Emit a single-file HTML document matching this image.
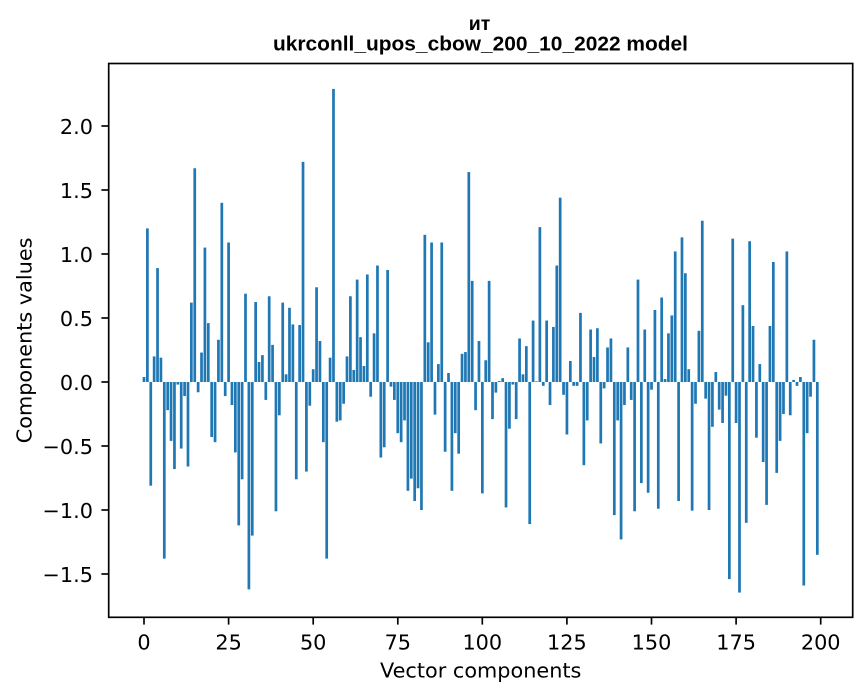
<!DOCTYPE html>
<html>
<head>
<meta charset="utf-8">
<style>
  html, body { margin: 0; padding: 0; background: #ffffff; }
  body { width: 867px; height: 696px; overflow: hidden; }
  svg { display: block; }
  .tick { font-family: "DejaVu Sans", "Liberation Sans", sans-serif; font-size: 20.8px; fill: #000; }
  .lab { font-family: "DejaVu Sans", "Liberation Sans", sans-serif; font-size: 20.8px; fill: #000; }
  .ttl { font-family: "Liberation Sans", "Noto Sans CJK SC", sans-serif; font-weight: bold; fill: #000; }
</style>
</head>
<body>
<svg width="867" height="696" viewBox="0 0 867 696" xmlns="http://www.w3.org/2000/svg">
  <rect x="0" y="0" width="867" height="696" fill="#ffffff"/>

  <!-- bars -->
  <g transform="translate(144,382) scale(3.3835,-128)" fill="#1f77b4">
    <rect x="-0.4" y="0" width="0.8" height="0.039"/>
    <rect x="0.6" y="0" width="0.8" height="1.20"/>
    <rect x="1.6" y="-0.81" width="0.8" height="0.81"/>
    <rect x="2.6" y="0" width="0.8" height="0.20"/>
    <rect x="3.6" y="0" width="0.8" height="0.89"/>
    <rect x="4.6" y="0" width="0.8" height="0.19"/>
    <rect x="5.6" y="-1.38" width="0.8" height="1.38"/>
    <rect x="6.6" y="-0.22" width="0.8" height="0.22"/>
    <rect x="7.6" y="-0.46" width="0.8" height="0.46"/>
    <rect x="8.6" y="-0.68" width="0.8" height="0.68"/>
    <rect x="9.6" y="-0.02" width="0.8" height="0.02"/>
    <rect x="10.6" y="-0.52" width="0.8" height="0.52"/>
    <rect x="11.6" y="-0.11" width="0.8" height="0.11"/>
    <rect x="12.6" y="-0.66" width="0.8" height="0.66"/>
    <rect x="13.6" y="0" width="0.8" height="0.62"/>
    <rect x="14.6" y="0" width="0.8" height="1.67"/>
    <rect x="15.6" y="-0.08" width="0.8" height="0.08"/>
    <rect x="16.6" y="0" width="0.8" height="0.23"/>
    <rect x="17.6" y="0" width="0.8" height="1.05"/>
    <rect x="18.6" y="0" width="0.8" height="0.46"/>
    <rect x="19.6" y="-0.43" width="0.8" height="0.43"/>
    <rect x="20.6" y="-0.47" width="0.8" height="0.47"/>
    <rect x="21.6" y="0" width="0.8" height="0.33"/>
    <rect x="22.6" y="0" width="0.8" height="1.40"/>
    <rect x="23.6" y="-0.11" width="0.8" height="0.11"/>
    <rect x="24.6" y="0" width="0.8" height="1.09"/>
    <rect x="25.6" y="-0.18" width="0.8" height="0.18"/>
    <rect x="26.6" y="-0.55" width="0.8" height="0.55"/>
    <rect x="27.6" y="-1.12" width="0.8" height="1.12"/>
    <rect x="28.6" y="-0.76" width="0.8" height="0.76"/>
    <rect x="29.6" y="0" width="0.8" height="0.69"/>
    <rect x="30.6" y="-1.62" width="0.8" height="1.62"/>
    <rect x="31.6" y="-1.20" width="0.8" height="1.20"/>
    <rect x="32.6" y="0" width="0.8" height="0.625"/>
    <rect x="33.6" y="0" width="0.8" height="0.156"/>
    <rect x="34.6" y="0" width="0.8" height="0.21"/>
    <rect x="35.6" y="-0.14" width="0.8" height="0.14"/>
    <rect x="36.6" y="0" width="0.8" height="0.67"/>
    <rect x="37.6" y="0" width="0.8" height="0.29"/>
    <rect x="38.6" y="-1.01" width="0.8" height="1.01"/>
    <rect x="39.6" y="-0.26" width="0.8" height="0.26"/>
    <rect x="40.6" y="0" width="0.8" height="0.62"/>
    <rect x="41.6" y="0" width="0.8" height="0.06"/>
    <rect x="42.6" y="0" width="0.8" height="0.58"/>
    <rect x="43.6" y="0" width="0.8" height="0.45"/>
    <rect x="44.6" y="-0.76" width="0.8" height="0.76"/>
    <rect x="45.6" y="0" width="0.8" height="0.445"/>
    <rect x="46.6" y="0" width="0.8" height="1.72"/>
    <rect x="47.6" y="-0.70" width="0.8" height="0.70"/>
    <rect x="48.6" y="-0.185" width="0.8" height="0.185"/>
    <rect x="49.6" y="0" width="0.8" height="0.10"/>
    <rect x="50.6" y="0" width="0.8" height="0.74"/>
    <rect x="51.6" y="0" width="0.8" height="0.32"/>
    <rect x="52.6" y="-0.47" width="0.8" height="0.47"/>
    <rect x="53.6" y="-1.38" width="0.8" height="1.38"/>
    <rect x="54.6" y="0" width="0.8" height="0.19"/>
    <rect x="55.6" y="0" width="0.8" height="2.29"/>
    <rect x="56.6" y="-0.31" width="0.8" height="0.31"/>
    <rect x="57.6" y="-0.30" width="0.8" height="0.30"/>
    <rect x="58.6" y="-0.17" width="0.8" height="0.17"/>
    <rect x="59.6" y="0" width="0.8" height="0.20"/>
    <rect x="60.6" y="0" width="0.8" height="0.67"/>
    <rect x="61.6" y="0" width="0.8" height="0.094"/>
    <rect x="62.6" y="0" width="0.8" height="0.80"/>
    <rect x="63.6" y="0" width="0.8" height="0.35"/>
    <rect x="64.6" y="0" width="0.8" height="0.125"/>
    <rect x="65.6" y="0" width="0.8" height="0.84"/>
    <rect x="66.6" y="-0.115" width="0.8" height="0.115"/>
    <rect x="67.6" y="0" width="0.8" height="0.38"/>
    <rect x="68.6" y="0" width="0.8" height="0.91"/>
    <rect x="69.6" y="-0.59" width="0.8" height="0.59"/>
    <rect x="70.6" y="-0.51" width="0.8" height="0.51"/>
    <rect x="71.6" y="0" width="0.8" height="0.875"/>
    <rect x="72.6" y="-0.036" width="0.8" height="0.036"/>
    <rect x="73.6" y="-0.14" width="0.8" height="0.14"/>
    <rect x="74.6" y="-0.40" width="0.8" height="0.40"/>
    <rect x="75.6" y="-0.47" width="0.8" height="0.47"/>
    <rect x="76.6" y="-0.30" width="0.8" height="0.30"/>
    <rect x="77.6" y="-0.85" width="0.8" height="0.85"/>
    <rect x="78.6" y="-0.755" width="0.8" height="0.755"/>
    <rect x="79.6" y="-0.93" width="0.8" height="0.93"/>
    <rect x="80.6" y="-0.83" width="0.8" height="0.83"/>
    <rect x="81.6" y="-1.0" width="0.8" height="1.0"/>
    <rect x="82.6" y="0" width="0.8" height="1.15"/>
    <rect x="83.6" y="0" width="0.8" height="0.31"/>
    <rect x="84.6" y="0" width="0.8" height="1.09"/>
    <rect x="85.6" y="-0.255" width="0.8" height="0.255"/>
    <rect x="86.6" y="0" width="0.8" height="0.14"/>
    <rect x="87.6" y="0" width="0.8" height="1.09"/>
    <rect x="88.6" y="-0.545" width="0.8" height="0.545"/>
    <rect x="89.6" y="0" width="0.8" height="0.07"/>
    <rect x="90.6" y="-0.85" width="0.8" height="0.85"/>
    <rect x="91.6" y="-0.40" width="0.8" height="0.40"/>
    <rect x="92.6" y="-0.56" width="0.8" height="0.56"/>
    <rect x="93.6" y="0" width="0.8" height="0.22"/>
    <rect x="94.6" y="0" width="0.8" height="0.234"/>
    <rect x="95.6" y="0" width="0.8" height="1.64"/>
    <rect x="96.6" y="0" width="0.8" height="0.79"/>
    <rect x="97.6" y="-0.22" width="0.8" height="0.22"/>
    <rect x="98.6" y="0" width="0.8" height="0.32"/>
    <rect x="99.6" y="-0.87" width="0.8" height="0.87"/>
    <rect x="100.6" y="0" width="0.8" height="0.17"/>
    <rect x="101.6" y="0" width="0.8" height="0.79"/>
    <rect x="102.6" y="-0.29" width="0.8" height="0.29"/>
    <rect x="103.6" y="-0.083" width="0.8" height="0.083"/>
    <rect x="104.6" y="0" width="0.8" height="0.008"/>
    <rect x="105.6" y="0" width="0.8" height="0.03"/>
    <rect x="106.6" y="-0.98" width="0.8" height="0.98"/>
    <rect x="107.6" y="-0.365" width="0.8" height="0.365"/>
    <rect x="108.6" y="-0.02" width="0.8" height="0.02"/>
    <rect x="109.6" y="-0.29" width="0.8" height="0.29"/>
    <rect x="110.6" y="0" width="0.8" height="0.34"/>
    <rect x="111.6" y="0" width="0.8" height="0.06"/>
    <rect x="112.6" y="0" width="0.8" height="0.28"/>
    <rect x="113.6" y="-1.11" width="0.8" height="1.11"/>
    <rect x="114.6" y="0" width="0.8" height="0.48"/>
    <rect x="115.6" y="0" width="0.8" height="0.005"/>
    <rect x="116.6" y="0" width="0.8" height="1.21"/>
    <rect x="117.6" y="-0.03" width="0.8" height="0.03"/>
    <rect x="118.6" y="0" width="0.8" height="0.48"/>
    <rect x="119.6" y="-0.18" width="0.8" height="0.18"/>
    <rect x="120.6" y="0" width="0.8" height="0.43"/>
    <rect x="121.6" y="0" width="0.8" height="0.91"/>
    <rect x="122.6" y="0" width="0.8" height="1.44"/>
    <rect x="123.6" y="-0.10" width="0.8" height="0.10"/>
    <rect x="124.6" y="-0.41" width="0.8" height="0.41"/>
    <rect x="125.6" y="0" width="0.8" height="0.164"/>
    <rect x="126.6" y="-0.03" width="0.8" height="0.03"/>
    <rect x="127.6" y="-0.03" width="0.8" height="0.03"/>
    <rect x="128.6" y="0" width="0.8" height="0.54"/>
    <rect x="129.6" y="-0.65" width="0.8" height="0.65"/>
    <rect x="130.6" y="-0.30" width="0.8" height="0.30"/>
    <rect x="131.6" y="0" width="0.8" height="0.41"/>
    <rect x="132.6" y="0" width="0.8" height="0.195"/>
    <rect x="133.6" y="0" width="0.8" height="0.42"/>
    <rect x="134.6" y="-0.48" width="0.8" height="0.48"/>
    <rect x="135.6" y="-0.05" width="0.8" height="0.05"/>
    <rect x="136.6" y="0" width="0.8" height="0.27"/>
    <rect x="137.6" y="0" width="0.8" height="0.34"/>
    <rect x="138.6" y="-1.04" width="0.8" height="1.04"/>
    <rect x="139.6" y="-0.30" width="0.8" height="0.30"/>
    <rect x="140.6" y="-1.23" width="0.8" height="1.23"/>
    <rect x="141.6" y="-0.18" width="0.8" height="0.18"/>
    <rect x="142.6" y="0" width="0.8" height="0.27"/>
    <rect x="143.6" y="-0.14" width="0.8" height="0.14"/>
    <rect x="144.6" y="-1.01" width="0.8" height="1.01"/>
    <rect x="145.6" y="0" width="0.8" height="0.80"/>
    <rect x="146.6" y="-0.79" width="0.8" height="0.79"/>
    <rect x="147.6" y="0" width="0.8" height="0.41"/>
    <rect x="148.6" y="-0.865" width="0.8" height="0.865"/>
    <rect x="149.6" y="-0.06" width="0.8" height="0.06"/>
    <rect x="150.6" y="0" width="0.8" height="0.5625"/>
    <rect x="151.6" y="-0.99" width="0.8" height="0.99"/>
    <rect x="152.6" y="0" width="0.8" height="0.66"/>
    <rect x="153.6" y="0" width="0.8" height="0.023"/>
    <rect x="154.6" y="0" width="0.8" height="0.38"/>
    <rect x="155.6" y="0" width="0.8" height="0.52"/>
    <rect x="156.6" y="0" width="0.8" height="1.02"/>
    <rect x="157.6" y="-0.93" width="0.8" height="0.93"/>
    <rect x="158.6" y="0" width="0.8" height="1.13"/>
    <rect x="159.6" y="0" width="0.8" height="0.85"/>
    <rect x="160.6" y="0" width="0.8" height="0.10"/>
    <rect x="161.6" y="-1.005" width="0.8" height="1.005"/>
    <rect x="162.6" y="-0.17" width="0.8" height="0.17"/>
    <rect x="163.6" y="0" width="0.8" height="0.40"/>
    <rect x="164.6" y="0" width="0.8" height="1.26"/>
    <rect x="165.6" y="-0.13" width="0.8" height="0.13"/>
    <rect x="166.6" y="-1.0" width="0.8" height="1.0"/>
    <rect x="167.6" y="-0.35" width="0.8" height="0.35"/>
    <rect x="168.6" y="0" width="0.8" height="0.078"/>
    <rect x="169.6" y="-0.216" width="0.8" height="0.216"/>
    <rect x="170.6" y="-0.32" width="0.8" height="0.32"/>
    <rect x="171.6" y="-0.107" width="0.8" height="0.107"/>
    <rect x="172.6" y="-1.54" width="0.8" height="1.54"/>
    <rect x="173.6" y="0" width="0.8" height="1.12"/>
    <rect x="174.6" y="-0.32" width="0.8" height="0.32"/>
    <rect x="175.6" y="-1.645" width="0.8" height="1.645"/>
    <rect x="176.6" y="0" width="0.8" height="0.60"/>
    <rect x="177.6" y="-1.10" width="0.8" height="1.10"/>
    <rect x="178.6" y="0" width="0.8" height="1.10"/>
    <rect x="179.6" y="0" width="0.8" height="0.4375"/>
    <rect x="180.6" y="-0.435" width="0.8" height="0.435"/>
    <rect x="181.6" y="0" width="0.8" height="0.14"/>
    <rect x="182.6" y="-0.625" width="0.8" height="0.625"/>
    <rect x="183.6" y="-0.96" width="0.8" height="0.96"/>
    <rect x="184.6" y="0" width="0.8" height="0.4375"/>
    <rect x="185.6" y="0" width="0.8" height="0.9375"/>
    <rect x="186.6" y="-0.71" width="0.8" height="0.71"/>
    <rect x="187.6" y="-0.46" width="0.8" height="0.46"/>
    <rect x="188.6" y="-0.25" width="0.8" height="0.25"/>
    <rect x="189.6" y="0" width="0.8" height="1.02"/>
    <rect x="190.6" y="-0.26" width="0.8" height="0.26"/>
    <rect x="191.6" y="0" width="0.8" height="0.016"/>
    <rect x="192.6" y="-0.03" width="0.8" height="0.03"/>
    <rect x="193.6" y="0" width="0.8" height="0.039"/>
    <rect x="194.6" y="-1.59" width="0.8" height="1.59"/>
    <rect x="195.6" y="-0.40" width="0.8" height="0.40"/>
    <rect x="196.6" y="-0.115" width="0.8" height="0.115"/>
    <rect x="197.6" y="0" width="0.8" height="0.33"/>
    <rect x="198.6" y="-1.35" width="0.8" height="1.35"/>
  </g>

  <!-- axes frame -->
  <rect x="108.7" y="63.5" width="744" height="553.8" fill="none" stroke="#000" stroke-width="1.67"/>

  <!-- y ticks -->
  <g stroke="#000" stroke-width="1.67">
    <line x1="101.4" y1="126" x2="108.7" y2="126"/>
    <line x1="101.4" y1="190" x2="108.7" y2="190"/>
    <line x1="101.4" y1="254" x2="108.7" y2="254"/>
    <line x1="101.4" y1="318" x2="108.7" y2="318"/>
    <line x1="101.4" y1="382" x2="108.7" y2="382"/>
    <line x1="101.4" y1="446" x2="108.7" y2="446"/>
    <line x1="101.4" y1="510" x2="108.7" y2="510"/>
    <line x1="101.4" y1="574" x2="108.7" y2="574"/>
  </g>
  <g class="tick" text-anchor="end">
    <text x="93" y="134">2.0</text>
    <text x="93" y="198">1.5</text>
    <text x="93" y="262">1.0</text>
    <text x="93" y="326">0.5</text>
    <text x="93" y="390">0.0</text>
    <text x="93" y="454">−0.5</text>
    <text x="93" y="518">−1.0</text>
    <text x="93" y="582">−1.5</text>
  </g>

  <!-- x ticks -->
  <g stroke="#000" stroke-width="1.67">
    <line x1="144" y1="617.3" x2="144" y2="624.6"/>
    <line x1="228.6" y1="617.3" x2="228.6" y2="624.6"/>
    <line x1="313.2" y1="617.3" x2="313.2" y2="624.6"/>
    <line x1="397.8" y1="617.3" x2="397.8" y2="624.6"/>
    <line x1="482.3" y1="617.3" x2="482.3" y2="624.6"/>
    <line x1="566.9" y1="617.3" x2="566.9" y2="624.6"/>
    <line x1="651.5" y1="617.3" x2="651.5" y2="624.6"/>
    <line x1="736.1" y1="617.3" x2="736.1" y2="624.6"/>
    <line x1="820.7" y1="617.3" x2="820.7" y2="624.6"/>
  </g>
  <g class="tick" text-anchor="middle">
    <text x="144" y="649.3">0</text>
    <text x="228.6" y="649.3">25</text>
    <text x="313.2" y="649.3">50</text>
    <text x="397.8" y="649.3">75</text>
    <text x="482.3" y="649.3">100</text>
    <text x="566.9" y="649.3">125</text>
    <text x="651.5" y="649.3">150</text>
    <text x="736.1" y="649.3">175</text>
    <text x="820.7" y="649.3">200</text>
  </g>

  <!-- axis labels -->
  <text class="lab" x="480.7" y="677.7" text-anchor="middle">Vector components</text>
  <text class="lab" x="0" y="0" text-anchor="middle" transform="translate(31.7,340.4) rotate(-90)">Components values</text>

  <!-- title -->
  <text class="ttl" x="479.5" y="30" text-anchor="middle" font-size="19.5">ит</text>
  <text class="ttl" x="480.5" y="50.7" text-anchor="middle" font-size="20.5" textLength="415" lengthAdjust="spacingAndGlyphs">ukrconll_upos_cbow_200_10_2022 model</text>
</svg>
</body>
</html>
